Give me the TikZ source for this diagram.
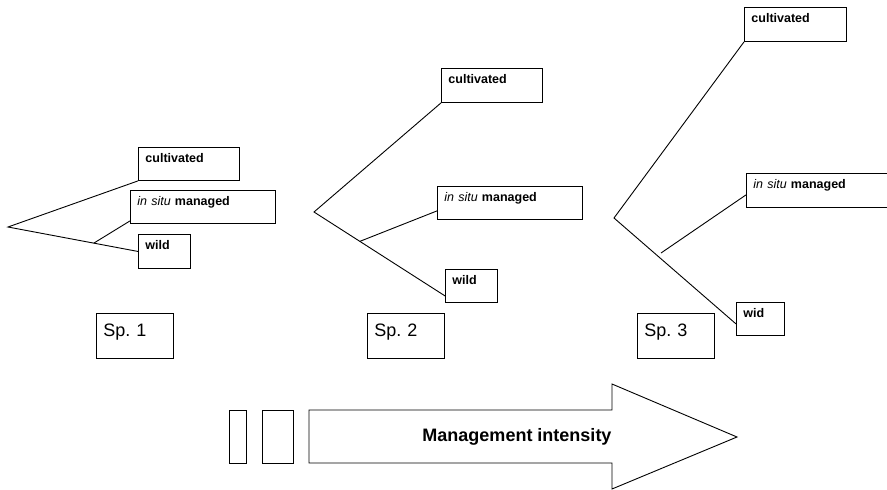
\documentclass[tikz,border=0pt]{standalone}
\usepackage{fontspec}
\setmainfont{Liberation Sans}
\usetikzlibrary{calc}
\frenchspacing

\tikzset{
  box/.style={draw, line width=0.9pt, anchor=north west, inner xsep=7pt,
              inner ysep=0pt, align=left},
  tag/.style={box, font=\fontsize{12.5}{14}\selectfont\bfseries, text height=15pt},
  spbox/.style={box, font=\fontsize{18}{20}\selectfont, text height=23pt,
                text width=63pt, text depth=22pt},
  branch/.style={line width=0.9pt},
  shape outline/.style={draw, line width=0.9pt}
}
\newcommand{\insitu}{{\normalfont\itshape in situ} managed}

\begin{document}
\begin{tikzpicture}[x=1pt, y=-1pt]
  \clip (0,0) rectangle (887,490);
  \fill[white] (0,0) rectangle (887,490);

  % ---- species 1 ----
  \node[tag, text width=87pt, text depth=18pt] (c1) at (138,147) {cultivated};
  \node[tag, text width=131pt, text depth=18pt] (m1) at (130,190) {\insitu};
  \node[tag, text width=38pt, text depth=19pt] (w1) at (138,234) {wild};
  \coordinate (r1) at (8,227);
  \coordinate (b1) at ($(r1)!0.66!(w1.west)$);
  \draw[branch] (c1.south west) -- (r1) -- (w1.west);
  \draw[branch] (b1) -- ($(m1.south west)+(0,-3)$);
  \node[spbox] (s1) at (96,313) {Sp. 1};

  % ---- species 2 ----
  \node[tag, text width=87pt, text depth=19pt] (c2) at (441,68) {cultivated};
  \node[tag, text width=131pt, text depth=18pt] (m2) at (437,186) {\insitu};
  \node[tag, text width=38pt, text depth=18pt] (w2) at (445,269) {wild};
  \coordinate (r2) at (314,212);
  \coordinate (e2) at ($(w2.south west)+(0,-7)$);
  \coordinate (b2) at ($(r2)!0.35!(e2)$);
  \draw[branch] (c2.south west) -- (r2) -- (e2);
  \draw[branch] (b2) -- ($(m2.south west)+(0,-9)$);
  \node[spbox] (s2) at (367,313) {Sp. 2};

  % ---- species 3 ----
  \node[tag, text width=88pt, text depth=19pt] (c3) at (744,7) {cultivated};
  \node[tag, text width=136pt, text depth=19pt] (m3) at (746,173) {\insitu};
  \node[tag, text width=34pt, text depth=18pt] (w3) at (736,302) {wid};
  \coordinate (r3) at (614,218);
  \coordinate (e3) at ($(w3.south west)+(0,-12)$);
  \coordinate (b3) at (661,253);
  \draw[branch] (c3.south west) -- (r3) -- (e3);
  \draw[branch] (b3) -- ($(m3.south west)+(0,-13)$);
  \node[spbox] (s3) at (637,313) {Sp. 3};

  % ---- management intensity arrow ----
  \draw[shape outline] (229,410) rectangle (246,463);
  \draw[shape outline] (262,410) rectangle (293,463);
  \draw[shape outline, line join=miter]
    (309,410) -- (612,410) -- (612,384) -- (737,437) -- (612,489)
    -- (612,463) -- (309,463) -- cycle;
  \node[font=\fontsize{18}{20}\selectfont\bfseries] (mi) at (517,437)
    {Management intensity};
\end{tikzpicture}
\end{document}
